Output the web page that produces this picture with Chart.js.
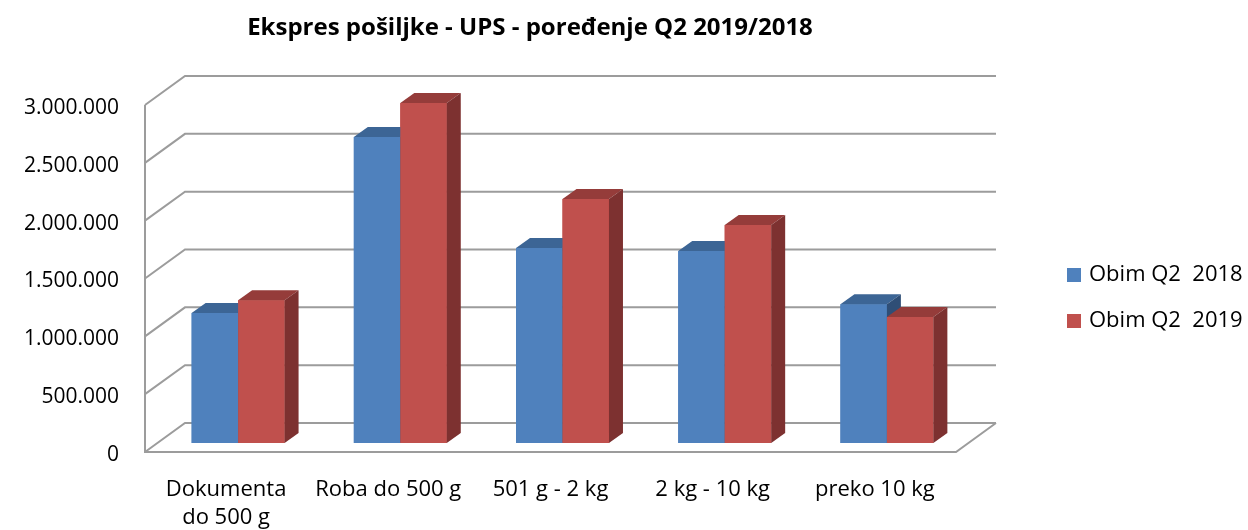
<!DOCTYPE html>
<html>
<head>
<meta charset="utf-8">
<script src="https://cdn.jsdelivr.net/npm/chart.js@4.4.0/dist/chart.umd.min.js"></script>
<style>
  html, body { margin: 0; padding: 0; background: #fff; }
  #wrap { width: 1248px; height: 530px; }
</style>
</head>
<body>
<div id="wrap"><canvas id="chartUps"></canvas></div>
<script>
const naslov = 'Ekspres pošiljke - UPS - poređenje Q2 2019/2018';
const kategorije = [['Dokumenta', 'do 500 g'], 'Roba do 500 g', '501 g - 2 kg', '2 kg - 10 kg', 'preko 10 kg'];
const obim2018 = [1125000, 2645000, 1685000, 1660000, 1200000];
const obim2019 = [1235000, 2940000, 2110000, 1885000, 1090000];
const yMax = 3000000;
const yKorak = 500000;

const FONT = '"Open Sans", "Liberation Sans", sans-serif';

// pomak prednje i zadnje ravni u odnosu na ravan stubaca
const PREDNJA = { dx: -12, dy: 9 };
const ZADNJA = { dx: 28, dy: -20 };
const DUBINA = { dx: 14, dy: 10 };

const boje = {
    plava: { lice: '#4F81BD', vrh: '#3C6595', bok: '#2F4E76' },
    crvena: { lice: '#C0504D', vrh: '#953C3A', bok: '#7D3130' }
};

function formatBroj(v) {
    return String(v).replace(/\B(?=(\d{3})+(?!\d))/g, '.');
}

const zidovi = {
    id: 'zidovi',
    beforeDatasetsDraw(chart) {
        const c = chart.ctx;
        const y = chart.scales.y;
        const a = chart.chartArea;
        c.save();
        c.strokeStyle = '#9C9C9C';
        c.lineWidth = 2;
        c.beginPath();
        for (let v = 0; v <= yMax; v += yKorak) {
            const py = y.getPixelForValue(v);
            c.moveTo(a.left + PREDNJA.dx, py + PREDNJA.dy);
            c.lineTo(a.left + ZADNJA.dx, py + ZADNJA.dy);
            c.lineTo(a.right + ZADNJA.dx, py + ZADNJA.dy);
        }
        const y0 = y.getPixelForValue(0);
        const yTop = y.getPixelForValue(yMax);
        c.moveTo(a.left + PREDNJA.dx, yTop + PREDNJA.dy);
        c.lineTo(a.left + PREDNJA.dx, y0 + PREDNJA.dy);
        c.lineTo(a.right + PREDNJA.dx, y0 + PREDNJA.dy);
        c.lineTo(a.right + ZADNJA.dx, y0 + ZADNJA.dy);
        c.stroke();
        c.restore();
    },
    // Chart.js crta skupove obrnutim redom, pa ih ovdje ponovo crtamo redom s 3D stranama
    afterDatasetsDraw(chart) {
        const c = chart.ctx;
        c.save();
        chart.data.datasets.forEach((ds, i) => {
            const b = ds.boje3d;
            chart.getDatasetMeta(i).data.forEach(el => {
                el.draw(c);
                const p = el.getProps(['x', 'y', 'base', 'width'], true);
                const l = p.x - p.width / 2;
                const r = p.x + p.width / 2;
                c.fillStyle = b.vrh;
                c.beginPath();
                c.moveTo(l, p.y);
                c.lineTo(r, p.y);
                c.lineTo(r + DUBINA.dx, p.y - DUBINA.dy);
                c.lineTo(l + DUBINA.dx, p.y - DUBINA.dy);
                c.closePath();
                c.fill();
                c.fillStyle = b.bok;
                c.beginPath();
                c.moveTo(r, p.y);
                c.lineTo(r + DUBINA.dx, p.y - DUBINA.dy);
                c.lineTo(r + DUBINA.dx, p.base - DUBINA.dy);
                c.lineTo(r, p.base);
                c.closePath();
                c.fill();
            });
        });
        c.restore();
    },
    afterDraw(chart) {
        const c = chart.ctx;
        c.save();
        c.fillStyle = '#000';
        c.textAlign = 'center';
        c.textBaseline = 'middle';
        c.font = 'bold 24px ' + FONT;
        c.fillText(naslov, 530, 28);
        c.font = '22px ' + FONT;
        c.textAlign = 'left';
        chart.data.datasets.forEach((ds, i) => {
            const ly = 275 + i * 46;
            c.fillStyle = ds.backgroundColor;
            c.fillRect(1067, ly - 7, 14, 14);
            c.fillStyle = '#000';
            c.fillText(ds.label, 1089, ly);
        });
        c.restore();
    }
};

new Chart(document.getElementById('chartUps'), {
    type: 'bar',
    data: {
        labels: kategorije,
        datasets: [{
            label: 'Obim Q2  2018',
            data: obim2018,
            backgroundColor: boje.plava.lice,
            boje3d: boje.plava,
            borderWidth: 0
        }, {
            label: 'Obim Q2  2019',
            data: obim2019,
            backgroundColor: boje.crvena.lice,
            boje3d: boje.crvena,
            borderWidth: 0
        }]
    },
    plugins: [zidovi],
    options: {
        responsive: true,
        maintainAspectRatio: false,
        animation: false,
        layout: { padding: { left: 0, right: 280, top: 96, bottom: 0 } },
        datasets: { bar: { categoryPercentage: 0.573, barPercentage: 1 } },
        plugins: {
            legend: { display: false },
            title: { display: false },
            tooltip: { enabled: false }
        },
        scales: {
            x: {
                grid: { display: false, drawTicks: false },
                border: { display: false },
                ticks: {
                    color: '#000',
                    font: { family: FONT, size: 22, lineHeight: 1.25 },
                    padding: 33,
                    labelOffset: -12,
                    maxRotation: 0,
                    autoSkip: false
                },
                afterFit(scale) { scale.height = 87; }
            },
            y: {
                min: 0,
                max: yMax,
                grid: { display: false, drawTicks: false },
                border: { display: false },
                ticks: {
                    stepSize: yKorak,
                    color: '#000',
                    font: { family: FONT, size: 21 },
                    padding: 38,
                    labelOffset: 12,
                    callback: v => formatBroj(v)
                },
                afterFit(scale) { scale.width = 157; }
            }
        }
    }
});
</script>
</body>
</html>
